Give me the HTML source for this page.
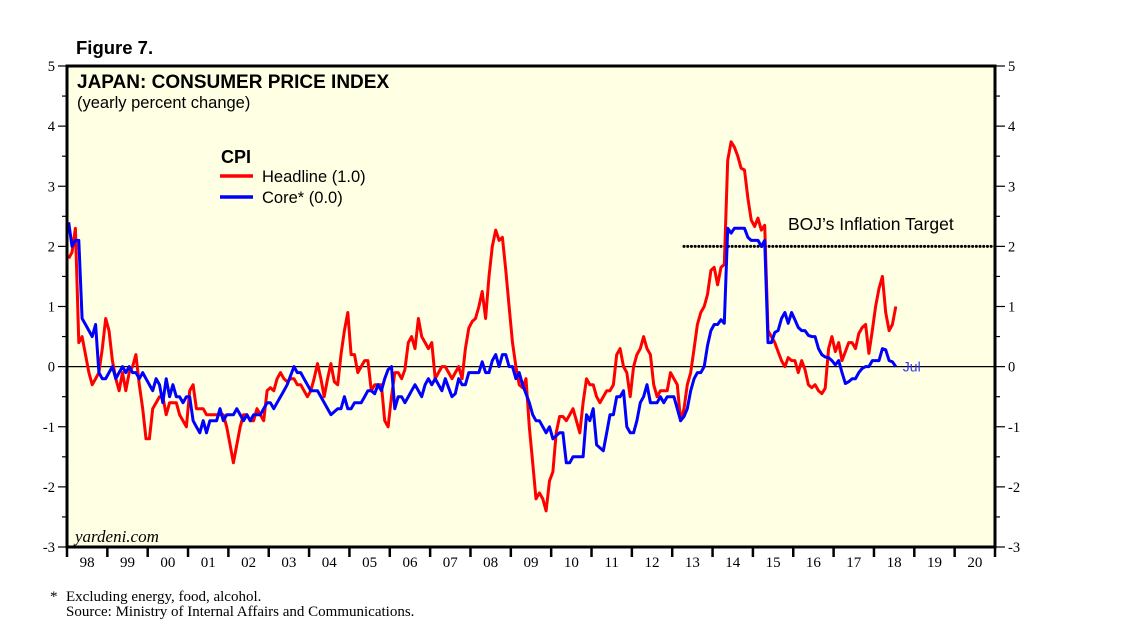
<!DOCTYPE html>
<html><head><meta charset="utf-8">
<style>
html,body{margin:0;padding:0;background:#fff;}
svg{display:block;}
text{font-family:"Liberation Sans",sans-serif;}
.serif{font-family:"Liberation Serif",serif;}
</style></head>
<body>
<svg id="chart" width="1138" height="643" viewBox="0 0 1138 643" xmlns="http://www.w3.org/2000/svg">
<text x="76" y="54" font-size="18.5" font-weight="bold">Figure 7.</text>
<rect x="67" y="66" width="928" height="481" fill="#FFFFE3"/>
<g id="grid"></g>
<g id="series"></g>
<rect x="67" y="66" width="928" height="481" fill="none" stroke="#000" stroke-width="3"/>
<g id="axes"></g>
<text x="77" y="88" font-size="19" font-weight="bold">JAPAN: CONSUMER PRICE INDEX</text>
<text x="77" y="108" font-size="16.5">(yearly percent change)</text>
<text x="221" y="163" font-size="18" font-weight="bold">CPI</text>
<line x1="220" y1="176" x2="253" y2="176" stroke="#f00" stroke-width="3.5"/>
<text x="262" y="182" font-size="16.5">Headline (1.0)</text>
<line x1="220" y1="197" x2="253" y2="197" stroke="#00f" stroke-width="3.5"/>
<text x="262" y="203" font-size="16.5">Core* (0.0)</text>
<text x="788" y="230" font-size="17.5">BOJ’s Inflation Target</text>
<text class="serif" x="75" y="542" font-size="17" font-style="italic">yardeni.com</text>
<text class="serif" x="50" y="601" font-size="15">*</text>
<text class="serif" x="66" y="601" font-size="15">Excluding energy, food, alcohol.</text>
<text class="serif" x="66" y="616" font-size="15">Source: Ministry of Internal Affairs and Communications.</text>
</svg>
<script>
const yearLabels=["98","99","00","01","02","03","04","05","06","07","08","09","10","11","12","13","14","15","16","17","18","19","20"];
const yTicks=[5,4,3,2,1,0,-1,-2,-3];
const bojTarget=2.0;
const bojStartMonth=183;
const headline=[
1.8,1.9,2.3,0.4,0.5,0.2,-0.1,-0.3,-0.2,-0.1,0.3,0.8,
0.6,0.1,-0.2,-0.4,-0.1,-0.4,-0.1,0.0,0.2,-0.3,-0.7,-1.2,
-1.2,-0.7,-0.6,-0.5,-0.5,-0.8,-0.6,-0.6,-0.6,-0.8,-0.9,-1.0,
-0.4,-0.3,-0.7,-0.7,-0.7,-0.8,-0.8,-0.8,-0.8,-0.8,-0.8,-1.0,
-1.3,-1.6,-1.3,-1.0,-0.8,-0.8,-0.9,-0.9,-0.7,-0.8,-0.9,-0.4,
-0.35,-0.4,-0.2,-0.1,-0.2,-0.25,-0.2,-0.2,-0.3,-0.3,-0.4,-0.5,
-0.4,-0.2,0.05,-0.2,-0.5,-0.2,0.05,-0.25,-0.3,0.2,0.6,0.9,
0.2,0.2,-0.1,0.0,0.1,0.1,-0.4,-0.3,-0.3,-0.3,-0.9,-1.0,
-0.5,-0.1,-0.1,-0.2,-0.05,0.4,0.5,0.3,0.8,0.5,0.4,0.3,
0.4,-0.2,-0.1,0.0,0.0,-0.1,-0.2,-0.1,0.0,-0.2,0.3,0.64,
0.75,0.8,1.0,1.25,0.8,1.5,2.0,2.27,2.1,2.15,1.6,1.0,
0.4,0.0,-0.3,-0.35,-0.2,-1.0,-1.6,-2.2,-2.1,-2.2,-2.4,-1.9,
-1.75,-1.1,-0.83,-0.83,-0.9,-0.8,-0.7,-0.9,-1.1,-0.6,-0.2,-0.3,
-0.3,-0.5,-0.6,-0.5,-0.4,-0.4,-0.3,0.2,0.3,0.0,-0.1,-0.5,
0.0,0.2,0.3,0.5,0.3,0.2,-0.3,-0.5,-0.4,-0.4,-0.4,-0.1,
-0.2,-0.3,-0.9,-0.7,-0.3,-0.1,0.3,0.7,0.9,1.0,1.2,1.6,
1.65,1.36,1.65,1.7,3.43,3.74,3.65,3.5,3.3,3.27,2.8,2.44,
2.33,2.47,2.27,2.35,0.6,0.5,0.4,0.25,0.1,0.0,0.15,0.1,
0.1,-0.1,0.1,-0.05,-0.3,-0.35,-0.3,-0.4,-0.45,-0.36,0.3,0.5,
0.25,0.4,0.1,0.25,0.4,0.4,0.3,0.55,0.65,0.7,0.22,0.6,
1.0,1.3,1.5,0.9,0.6,0.7,1.0];
const core=[
2.4,2.0,2.1,2.1,0.8,0.7,0.6,0.5,0.7,-0.1,-0.2,-0.2,
-0.1,0.0,-0.2,-0.1,0.0,-0.1,0.0,-0.1,-0.1,-0.2,-0.1,-0.2,
-0.3,-0.4,-0.2,-0.3,-0.6,-0.2,-0.5,-0.3,-0.5,-0.5,-0.6,-0.5,
-0.5,-0.9,-1.0,-1.1,-0.9,-1.1,-0.9,-0.9,-0.9,-0.7,-0.9,-0.8,
-0.8,-0.8,-0.7,-0.8,-0.9,-0.8,-0.9,-0.8,-0.8,-0.8,-0.7,-0.6,
-0.6,-0.7,-0.6,-0.5,-0.4,-0.3,-0.15,0.0,-0.1,-0.1,-0.2,-0.3,
-0.4,-0.4,-0.4,-0.5,-0.6,-0.7,-0.8,-0.75,-0.7,-0.7,-0.5,-0.7,
-0.7,-0.6,-0.6,-0.6,-0.5,-0.4,-0.4,-0.45,-0.3,-0.4,-0.2,-0.05,
0.0,-0.7,-0.5,-0.5,-0.6,-0.5,-0.4,-0.3,-0.4,-0.5,-0.3,-0.2,
-0.3,-0.2,-0.3,-0.4,-0.2,-0.35,-0.5,-0.45,-0.2,-0.3,-0.3,-0.1,
-0.1,-0.1,-0.1,0.08,-0.1,-0.1,0.1,0.2,0.0,0.2,0.2,0.0,
0.0,-0.2,-0.1,-0.3,-0.45,-0.6,-0.8,-0.9,-0.9,-1.0,-1.1,-1.0,
-1.2,-1.15,-1.1,-1.1,-1.6,-1.6,-1.5,-1.5,-1.5,-1.5,-0.8,-0.9,
-0.7,-1.3,-1.35,-1.4,-1.1,-0.8,-0.8,-0.5,-0.5,-0.4,-1.0,-1.1,
-1.1,-0.9,-0.6,-0.5,-0.3,-0.6,-0.6,-0.6,-0.5,-0.6,-0.5,-0.5,
-0.5,-0.7,-0.9,-0.83,-0.7,-0.4,-0.2,-0.1,-0.1,0.0,0.35,0.6,
0.7,0.7,0.78,0.72,2.3,2.22,2.3,2.3,2.3,2.3,2.15,2.1,
2.1,2.1,2.0,2.1,0.4,0.4,0.57,0.6,0.8,0.9,0.72,0.9,
0.78,0.65,0.6,0.6,0.52,0.5,0.5,0.3,0.2,0.16,0.15,0.1,
0.03,0.1,-0.1,-0.28,-0.25,-0.2,-0.2,-0.1,-0.03,0.0,0.0,0.1,
0.1,0.1,0.3,0.28,0.1,0.08,0.0];

const NS="http://www.w3.org/2000/svg";
const X0=67,X1=995,Y0=66,Y1=547,YMAX=5,YMIN=-3;
const nYears=yearLabels.length;
const yearW=(X1-X0)/nYears, monthW=yearW/12;
function xMonth(i){return X0+(i+0.5)*monthW;}
function yVal(v){return Y0+(YMAX-v)/(YMAX-YMIN)*(Y1-Y0);}
function mk(tag,attrs,parent){const e=document.createElementNS(NS,tag);for(const k in attrs)e.setAttribute(k,attrs[k]);parent.appendChild(e);return e;}
const axes=document.getElementById('axes'),grid=document.getElementById('grid'),series=document.getElementById('series');

const zl=mk('line',{x1:X0,x2:X1,y1:yVal(0),y2:yVal(0),stroke:'#000','stroke-width':1.2},grid);



const bx=xMonth(bojStartMonth);
const bl=mk('line',{x1:bx,x2:X1,y1:yVal(bojTarget),y2:yVal(bojTarget),stroke:'#000','stroke-width':3,'stroke-dasharray':'0.1 3.6','stroke-linecap':'round'},grid);



yTicks.forEach(v=>{
  const y=yVal(v);
  const t1=mk('line',{x1:X0-9,x2:X0,y1:y,y2:y,stroke:'#000','stroke-width':1.2},axes);
  
  
  const t2=mk('line',{x1:X1,x2:X1+10,y1:y,y2:y,stroke:'#000','stroke-width':1.2},axes);
  
  
  const l1=mk('text',{x:X0-12,y:y+5,'font-size':14.5,'text-anchor':'end','class':'serif'},axes);
  l1.textContent=String(v);
  
  
  const l2=mk('text',{x:X1+13,y:y+5,'font-size':14.5,'class':'serif'},axes);
  l2.textContent=String(v);
  
  
  if(v>YMIN){
    const ym=yVal(v-0.5);
    const m1=mk('line',{x1:X0-5,x2:X0,y1:ym,y2:ym,stroke:'#000','stroke-width':1.2},axes);
    
    
    const m2=mk('line',{x1:X1,x2:X1+5,y1:ym,y2:ym,stroke:'#000','stroke-width':1.2},axes);
    
    
  }
});
for(let k=0;k<=nYears;k++){
  const x=X0+k*yearW;
  const t=mk('line',{x1:x,x2:x,y1:Y1,y2:Y1+10,stroke:'#000','stroke-width':2.5},axes);
  
  
}
yearLabels.forEach((lab,k)=>{
  const t=mk('text',{x:X0+(k+0.5)*yearW,y:Y1+20,'font-size':15,'text-anchor':'middle','class':'serif'},axes);
  t.textContent=lab;
  
  
});

function path(arr){return arr.map((v,i)=>(i?'L':'M')+xMonth(i).toFixed(1)+' '+yVal(v).toFixed(1)).join(' ');}
const ph=mk('path',{d:path(headline),fill:'none',stroke:'#f00','stroke-width':3,'stroke-linejoin':'round'},series);


const pc=mk('path',{d:path(core),fill:'none',stroke:'#00f','stroke-width':3,'stroke-linejoin':'round'},series);


const last=core.length-1;
const jl=mk('text',{x:xMonth(last)+7,y:yVal(core[last])+5,'font-size':14,fill:'#33f'},series);
jl.textContent='Jul';


</script>
</body></html>
